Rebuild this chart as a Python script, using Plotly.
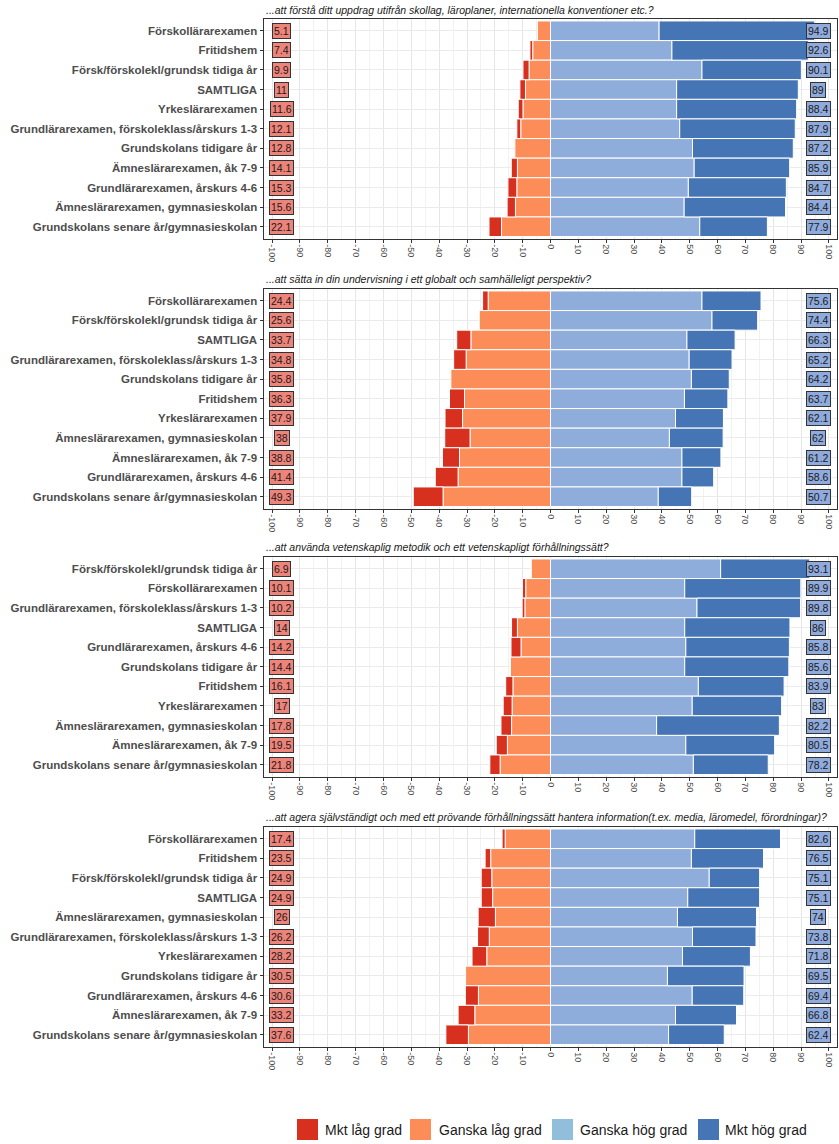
import plotly.graph_objects as go
import numpy as np

W, H = 839, 1144

series_names = ["Mkt låg grad", "Ganska låg grad", "Ganska hög grad", "Mkt hög grad"]
bar_colors = ["#D7301F", "#FC8D59", "#8FADDA", "#4575B4"]
legend_colors = ["#D7301F", "#FC8D59", "#91BFDB", "#4575B4"]

titles = [
    "...att förstå ditt uppdrag utifrån skollag, läroplaner, internationella konventioner etc.?",
    "...att sätta in din undervisning i ett globalt och samhälleligt perspektiv?",
    "...att använda vetenskaplig metodik och ett vetenskapligt förhållningssätt?",
    "...att agera självständigt och med ett prövande förhållningssätt hantera information(t.ex. media, läromedel, förordningar)?",
]

# Panel 1
cats1 = ["Förskollärarexamen", "Fritidshem", "Försk/förskolekl/grundsk tidiga år", "SAMTLIGA",
         "Yrkeslärarexamen", "Grundlärarexamen, förskoleklass/årskurs 1-3", "Grundskolans tidigare år",
         "Ämneslärarexamen, åk 7-9", "Grundlärarexamen, årskurs 4-6", "Ämneslärarexamen, gymnasieskolan",
         "Grundskolans senare år/gymnasieskolan"]
mkt_lag1 = [0.4, 1.0, 2.2, 2.0, 1.7, 1.4, 0.0, 2.2, 3.2, 3.0, 4.5]
ganska_lag1 = [4.7, 6.4, 7.7, 9.0, 9.9, 10.7, 12.8, 11.9, 12.1, 12.6, 17.6]
ganska_hog1 = [39.0, 43.6, 54.4, 45.3, 45.3, 46.4, 51.0, 51.6, 49.5, 48.0, 53.6]
mkt_hog1 = [55.9, 49.0, 35.7, 43.7, 43.1, 41.5, 36.2, 34.3, 35.2, 36.4, 24.3]
low_lab1 = [5.1, 7.4, 9.9, 11, 11.6, 12.1, 12.8, 14.1, 15.3, 15.6, 22.1]
high_lab1 = [94.9, 92.6, 90.1, 89, 88.4, 87.9, 87.2, 85.9, 84.7, 84.4, 77.9]

# Panel 2
cats2 = ["Förskollärarexamen", "Försk/förskolekl/grundsk tidiga år", "SAMTLIGA",
         "Grundlärarexamen, förskoleklass/årskurs 1-3", "Grundskolans tidigare år", "Fritidshem",
         "Yrkeslärarexamen", "Ämneslärarexamen, gymnasieskolan", "Ämneslärarexamen, åk 7-9",
         "Grundlärarexamen, årskurs 4-6", "Grundskolans senare år/gymnasieskolan"]
mkt_lag2 = [2.0, 0.0, 5.1, 4.5, 0.0, 5.4, 6.3, 9.1, 6.1, 8.2, 10.7]
ganska_lag2 = [22.4, 25.6, 28.6, 30.3, 35.8, 30.9, 31.6, 28.9, 32.7, 33.2, 38.6]
ganska_hog2 = [54.4, 58.0, 49.0, 49.8, 50.6, 48.1, 44.9, 42.7, 47.2, 47.2, 38.7]
mkt_hog2 = [21.2, 16.4, 17.3, 15.4, 13.6, 15.6, 17.2, 19.3, 14.0, 11.4, 12.0]
low_lab2 = [24.4, 25.6, 33.7, 34.8, 35.8, 36.3, 37.9, 38, 38.8, 41.4, 49.3]
high_lab2 = [75.6, 74.4, 66.3, 65.2, 64.2, 63.7, 62.1, 62, 61.2, 58.6, 50.7]

# Panel 3
cats3 = ["Försk/förskolekl/grundsk tidiga år", "Förskollärarexamen",
         "Grundlärarexamen, förskoleklass/årskurs 1-3", "SAMTLIGA", "Grundlärarexamen, årskurs 4-6",
         "Grundskolans tidigare år", "Fritidshem", "Yrkeslärarexamen", "Ämneslärarexamen, gymnasieskolan",
         "Ämneslärarexamen, åk 7-9", "Grundskolans senare år/gymnasieskolan"]
mkt_lag3 = [0.0, 1.2, 1.0, 2.1, 3.6, 0.0, 2.6, 3.2, 3.8, 4.0, 3.7]
ganska_lag3 = [6.9, 8.9, 9.2, 11.9, 10.6, 14.4, 13.5, 13.8, 14.0, 15.5, 18.1]
ganska_hog3 = [61.1, 48.2, 52.6, 48.2, 48.6, 48.2, 53.1, 50.9, 38.1, 48.6, 51.3]
mkt_hog3 = [32.0, 41.7, 37.2, 37.8, 37.2, 37.4, 30.8, 32.1, 44.1, 31.9, 26.9]
low_lab3 = [6.9, 10.1, 10.2, 14, 14.2, 14.4, 16.1, 17, 17.8, 19.5, 21.8]
high_lab3 = [93.1, 89.9, 89.8, 86, 85.8, 85.6, 83.9, 83, 82.2, 80.5, 78.2]

# Panel 4
cats4 = ["Förskollärarexamen", "Fritidshem", "Försk/förskolekl/grundsk tidiga år", "SAMTLIGA",
         "Ämneslärarexamen, gymnasieskolan", "Grundlärarexamen, förskoleklass/årskurs 1-3",
         "Yrkeslärarexamen", "Grundskolans tidigare år", "Grundlärarexamen, årskurs 4-6",
         "Ämneslärarexamen, åk 7-9", "Grundskolans senare år/gymnasieskolan"]
mkt_lag4 = [1.1, 2.0, 3.8, 4.1, 6.2, 4.2, 5.3, 0.0, 4.7, 6.0, 8.1]
ganska_lag4 = [16.3, 21.5, 21.1, 20.8, 19.8, 22.0, 22.9, 30.5, 25.9, 27.2, 29.5]
ganska_hog4 = [51.8, 50.6, 57.0, 49.3, 45.6, 51.0, 47.4, 42.0, 50.9, 44.9, 42.4]
mkt_hog4 = [30.8, 25.9, 18.1, 25.8, 28.4, 22.8, 24.4, 27.5, 18.5, 21.9, 20.0]
low_lab4 = [17.4, 23.5, 24.9, 24.9, 26, 26.2, 28.2, 30.5, 30.6, 33.2, 37.6]
high_lab4 = [82.6, 76.5, 75.1, 75.1, 74, 73.8, 71.8, 69.5, 69.4, 66.8, 62.4]

x_ticks = list(range(-100, 101, 10))
x_ticktext = [str(v) for v in x_ticks]
x_minor = list(range(-95, 100, 10))

panels = [
    (cats1, mkt_lag1, ganska_lag1, ganska_hog1, mkt_hog1, low_lab1, high_lab1),
    (cats2, mkt_lag2, ganska_lag2, ganska_hog2, mkt_hog2, low_lab2, high_lab2),
    (cats3, mkt_lag3, ganska_lag3, ganska_hog3, mkt_hog3, low_lab3, high_lab3),
    (cats4, mkt_lag4, ganska_lag4, ganska_hog4, mkt_hog4, low_lab4, high_lab4),
]

# layout geometry (pixels)
box_left, box_right = 263.5, 837.0
box_tops = [19, 289, 557, 827]
box_h = 219.5
title_y = [10, 279, 547, 817]

FONT = "Liberation Sans, Arial, sans-serif"

def px_x(p):
    return p / W

def px_y(p):
    return 1 - p / H

fig = go.Figure()
annotations = []
shapes = []

for i, (cats, ml, gl, gh, mh, ll, hl) in enumerate(panels):
    n = i + 1
    xa = "x" if n == 1 else f"x{n}"
    ya = "y" if n == 1 else f"y{n}"
    common = dict(y=cats, orientation="h", xaxis=xa, yaxis=ya, showlegend=False,
                  hoverinfo="skip", marker_line_color="white", marker_line_width=1)
    fig.add_trace(go.Bar(x=-np.array(gl), marker_color=bar_colors[1], name=series_names[1], **common))
    fig.add_trace(go.Bar(x=-np.array(ml), marker_color=bar_colors[0], name=series_names[0], **common))
    fig.add_trace(go.Bar(x=np.array(gh), marker_color=bar_colors[2], name=series_names[2], **common))
    fig.add_trace(go.Bar(x=np.array(mh), marker_color=bar_colors[3], name=series_names[3], **common))

    top = box_tops[i]
    dom_y = [px_y(top + box_h), px_y(top)]
    xkey = "xaxis" if n == 1 else f"xaxis{n}"
    ykey = "yaxis" if n == 1 else f"yaxis{n}"
    fig.update_layout(**{
        xkey: dict(domain=[px_x(box_left), px_x(box_right)], anchor=ya, range=[-103.1, 102.9],
                   automargin=False,
                   tickmode="array", tickvals=x_ticks, ticktext=x_ticktext, tickangle=90,
                   ticks="outside", ticklen=3, tickcolor="#333333", tickwidth=1,
                   tickfont=dict(family=FONT, size=9, color="#4D4D4D"),
                   showgrid=True, gridcolor="#E6E6E6", gridwidth=1,
                   minor=dict(tickvals=x_minor, showgrid=True, gridcolor="#F2F2F2", gridwidth=1, ticks=""),
                   showline=True, linecolor="#333333", linewidth=1, mirror=True, zeroline=False,
                   fixedrange=True),
        ykey: dict(domain=dom_y, anchor=xa, type="category", categoryorder="array",
                   categoryarray=cats, range=[10.6, -0.6], automargin=False,
                   ticks="outside", ticklen=3, tickcolor="#333333", tickwidth=1,
                   tickfont=dict(family=FONT, size=11.5, color="#4D4D4D", weight="bold"),
                   showgrid=True, gridcolor="#EBEBEB", gridwidth=1,
                   showline=True, linecolor="#333333", linewidth=1, mirror=True, zeroline=False,
                   fixedrange=True),
    })

    for c, v in zip(cats, ll):
        annotations.append(dict(x=-96.5, y=c, xref=xa, yref=ya, text=f"{v:g}", showarrow=False,
                                font=dict(family=FONT, size=10.5, color="#1A1A1A"),
                                bgcolor="#EE8379", bordercolor="#333333", borderwidth=1, borderpad=1))
    for c, v in zip(cats, hl):
        annotations.append(dict(x=96.2, y=c, xref=xa, yref=ya, text=f"{v:g}", showarrow=False,
                                font=dict(family=FONT, size=10.5, color="#1A1A1A"),
                                bgcolor="#8FAADC", bordercolor="#333333", borderwidth=1, borderpad=1))

    annotations.append(dict(x=px_x(box_left), y=px_y(title_y[i]), xref="paper", yref="paper",
                            xanchor="left", yanchor="middle", showarrow=False,
                            text=f"<i>{titles[i]}</i>",
                            font=dict(family=FONT, size=10.5, color="#1A1A1A")))

# legend (drawn manually at bottom)
leg_sq_x = [297, 410, 552, 698]
leg_txt_x = [323, 437, 578, 723]
for k in range(4):
    shapes.append(dict(type="rect", xref="paper", yref="paper",
                       x0=px_x(leg_sq_x[k]), x1=px_x(leg_sq_x[k] + 21),
                       y0=px_y(1140), y1=px_y(1119),
                       fillcolor=legend_colors[k], line=dict(width=0)))
    annotations.append(dict(x=px_x(leg_txt_x[k]), y=px_y(1130), xref="paper", yref="paper",
                            xanchor="left", yanchor="middle", showarrow=False,
                            text=series_names[k],
                            font=dict(family=FONT, size=14, color="#1A1A1A")))

fig.update_layout(
    width=W, height=H, autosize=False,
    margin=dict(l=0, r=0, t=0, b=0, autoexpand=False),
    paper_bgcolor="white", plot_bgcolor="white",
    barmode="relative", bargap=0,
    annotations=annotations, shapes=shapes,
    showlegend=False,
)

fig.write_html("out.html", config={"displayModeBar": False, "staticPlot": True},
               post_script="document.body.style.margin='0';document.body.style.overflow='hidden';")
